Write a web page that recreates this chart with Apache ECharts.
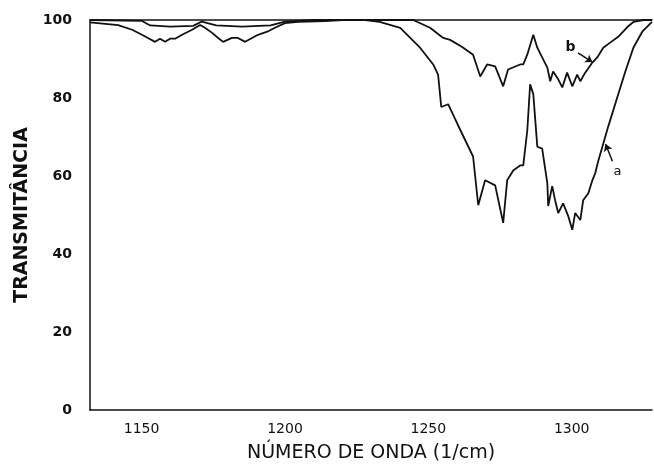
<!DOCTYPE html>
<html>
<head>
<meta charset="utf-8">
<script src="https://cdn.jsdelivr.net/npm/echarts@6/dist/echarts.min.js"></script>
<style>
  html, body { margin: 0; padding: 0; background: #fff; }
  #main { width: 654px; height: 468px; }
</style>
</head>
<body>
<div id="main"></div>
<script>
// wavenumber (1/cm) and transmittance (%)
const waveA = [1132, 1150, 1153, 1160, 1168, 1171, 1176, 1185, 1195, 1200, 1210, 1228, 1233,
  1240.2, 1247.1, 1251.7, 1253.4, 1254.5, 1256.9, 1260.1, 1265.6, 1267.4, 1269.8, 1273.3, 1276.1,
  1277.5, 1279.6, 1282.0, 1283.1, 1284.5, 1285.5, 1286.6, 1288.0, 1289.7, 1291.5, 1291.8, 1293.2,
  1294.2, 1295.3, 1297.0, 1298.8, 1300.2, 1301.2, 1303.0, 1304.0, 1305.8, 1307.2, 1308.2, 1309.3,
  1311.0, 1312.7, 1315.9, 1318.7, 1321.5, 1324.6, 1328];
const transA = [100, 99.8, 98.6, 98.3, 98.5, 99.6, 98.6, 98.3, 98.6, 99.6, 100, 100, 99.5,
  98.0, 92.9, 88.6, 86.0, 77.7, 78.4, 73.4, 65.0, 52.5, 58.9, 57.6, 48.0,
  58.9, 61.4, 62.7, 62.7, 71.6, 83.5, 81.0, 67.5, 67.0, 58.1, 52.3, 57.4,
  53.8, 50.5, 53.0, 49.7, 46.2, 50.5, 48.7, 53.8, 55.6, 58.9, 60.7, 64.0,
  68.3, 72.6, 80.2, 86.8, 92.9, 97.0, 99.5];

const waveB = [1132, 1141.8, 1146.7, 1150.1, 1152.2, 1154.7, 1156.4, 1158.2, 1159.9, 1161.7,
  1164.1, 1167.6, 1170.4, 1172.1, 1174.6, 1176.7, 1178.4, 1181.5, 1183.6, 1186.1, 1188.5, 1190.6,
  1193.8, 1196.5, 1200.0, 1204.6, 1214.0, 1220, 1244.7, 1250.6, 1255.2, 1257.6, 1261.8, 1265.6,
  1268.1, 1270.5, 1273.3, 1276.1, 1277.8, 1282.0, 1283.1, 1284.5, 1286.6, 1288.0, 1289.7, 1291.5,
  1292.5, 1293.5, 1295.3, 1296.7, 1298.4, 1300.2, 1301.9, 1303.0, 1304.7, 1307.2, 1308.9, 1311.0,
  1313.4, 1316.2, 1319.4, 1321.5, 1325.0, 1328];
const transB = [99.4, 98.7, 97.5, 96.2, 95.4, 94.4, 95.2, 94.4, 95.2, 95.2,
  96.2, 97.5, 98.7, 98.0, 96.7, 95.4, 94.4, 95.4, 95.4, 94.4, 95.4, 96.2,
  97.0, 98.0, 99.2, 99.5, 99.7, 100, 100, 98.0, 95.4, 94.9, 93.1, 91.1,
  85.5, 88.6, 88.1, 83.0, 87.3, 88.6, 88.6, 91.1, 96.2, 92.9, 90.4, 87.8,
  84.3, 86.8, 84.8, 82.7, 86.5, 83.0, 86.0, 84.3, 86.5, 89.1, 90.4, 92.9,
  94.2, 95.7, 98.2, 99.5, 100, 100];

const xTicks = [1150, 1200, 1250, 1300];
const yTicks = [0, 20, 40, 60, 80, 100];

const zip = (xs, ys) => xs.map((x, i) => [x, ys[i]]);

var myChart = echarts.init(document.getElementById('main'));

const font = 'DejaVu Sans';
const lineStyle = {color: '#111', width: 1.8};

myChart.setOption({
  backgroundColor: '#fff',
  animation: false,
  grid: {left: 90, right: 2, top: 20, bottom: 54},
  xAxis: [{
    type: 'value',
    min: 1132,
    max: 1328,
    name: 'NÚMERO DE ONDA (1/cm)',
    nameLocation: 'middle',
    nameGap: 34,
    nameTextStyle: {fontFamily: font, fontSize: 19, color: '#111'},
    axisLine: {lineStyle: {color: '#111', width: 1.5}},
    axisTick: {show: false},
    splitLine: {show: false},
    axisLabel: {
      customValues: xTicks,
      formatter: v => String(v),
      fontFamily: font, fontSize: 14, color: '#111', margin: 12
    }
  }, {
    type: 'value',
    position: 'top',
    min: 1132,
    max: 1328,
    axisLine: {lineStyle: {color: '#111', width: 1.5}},
    axisTick: {show: false},
    axisLabel: {show: false},
    splitLine: {show: false}
  }],
  yAxis: {
    type: 'value',
    min: 0,
    max: 100,
    interval: 20,
    name: 'TRANSMITÂNCIA',
    nameLocation: 'middle',
    nameGap: 58,
    nameTextStyle: {fontFamily: font, fontSize: 19, fontWeight: 'bold', color: '#111'},
    axisLine: {show: true, lineStyle: {color: '#111', width: 1.5}},
    axisTick: {show: false},
    splitLine: {show: false},
    axisLabel: {
      customValues: yTicks,
      fontFamily: font, fontSize: 14, fontWeight: 'bold', color: '#111', margin: 18
    }
  },
  series: [{
    name: 'a',
    type: 'line',
    data: zip(waveA, transA),
    symbol: 'none',
    lineStyle: lineStyle,
    markLine: {
      silent: true,
      symbol: ['none', 'arrow'],
      symbolSize: 7,
      label: {show: false},
      lineStyle: {color: '#111', width: 1.5, type: 'solid'},
      data: [[{coord: [1314.2, 63.8]}, {coord: [1311.8, 68.2]}]]
    },
    markPoint: {
      symbol: 'circle',
      symbolSize: 1,
      itemStyle: {color: 'transparent'},
      label: {show: true, position: 'inside', formatter: 'a', fontFamily: font, fontSize: 13, color: '#111'},
      data: [{coord: [1316, 61]}]
    }
  }, {
    name: 'b',
    type: 'line',
    data: zip(waveB, transB),
    symbol: 'none',
    lineStyle: lineStyle,
    markLine: {
      silent: true,
      symbol: ['none', 'arrow'],
      symbolSize: 7,
      label: {show: false},
      lineStyle: {color: '#111', width: 1.5, type: 'solid'},
      data: [[{coord: [1302.2, 91.6]}, {coord: [1307.2, 89.2]}]]
    },
    markPoint: {
      symbol: 'circle',
      symbolSize: 1,
      itemStyle: {color: 'transparent'},
      label: {show: true, position: 'inside', formatter: 'b', fontFamily: font, fontSize: 14, fontWeight: 'bold', color: '#111'},
      data: [{coord: [1299.6, 93]}]
    }
  }]
});
</script>
</body>
</html>
